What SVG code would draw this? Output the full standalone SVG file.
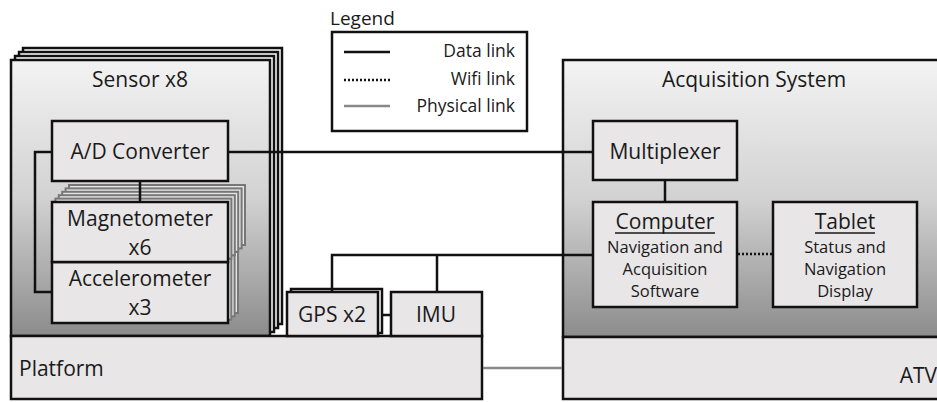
<svg xmlns="http://www.w3.org/2000/svg" width="937" height="402" viewBox="0 0 937 402">
<defs>
<linearGradient id="cg" x1="0" y1="0" x2="0" y2="1">
<stop offset="0" stop-color="#f3f3f3"/>
<stop offset="0.5" stop-color="#d2d2d2"/>
<stop offset="1" stop-color="#8c8c8c"/>
</linearGradient>
<style>
text{font-family:"Open Sans","Liberation Sans",sans-serif;fill:#1a1a1a}
.box{fill:#e8e6e7;stroke:#111;stroke-width:2.5}
.cont{fill:url(#cg);stroke:#111;stroke-width:2.5}
.shadow{fill:#fff;stroke:#111;stroke-width:2.5}
.gshadow{fill:#e4e4e4;stroke:#777;stroke-width:2}
.t20{font-size:21px;text-anchor:middle}
.t16{font-size:16.5px;text-anchor:middle}
.leg{font-size:17.5px;text-anchor:end}
.data{fill:none;stroke:#111;stroke-width:2.5}
.wifi{fill:none;stroke:#111;stroke-width:2.5;stroke-dasharray:2 2}
.phys{fill:none;stroke:#888;stroke-width:2.5}
.ul{stroke:#1a1a1a;stroke-width:1.5}
</style>
</defs>
<rect width="937" height="402" fill="#fff"/>

<g id="legend">
<text x="330" y="25" style="font-size:19px">Legend</text>
<rect x="332" y="32" width="195" height="99" fill="#fff" stroke="#111" stroke-width="2.5"/>
<line x1="344" y1="52" x2="390" y2="52" class="data"/>
<line x1="344" y1="80" x2="390" y2="80" class="wifi"/>
<line x1="344" y1="106" x2="390" y2="106" class="phys"/>
<text x="515" y="57" class="leg">Data link</text>
<text x="515" y="85" class="leg">Wifi link</text>
<text x="515" y="112" class="leg">Physical link</text>
</g>

<g id="sensor">
<rect x="23" y="48" width="259" height="276" class="shadow"/>
<rect x="19" y="52" width="259" height="276" class="shadow"/>
<rect x="15" y="56" width="259" height="276" class="shadow"/>
<rect x="11" y="60" width="259" height="276" class="cont"/>
<text x="140" y="87" class="t20">Sensor x8</text>
</g>

<g id="platform">
<rect x="11" y="336" width="471" height="63" class="box"/>
<text x="19" y="376" style="font-size:21px">Platform</text>
</g>

<g id="acquisition">
<rect x="563" y="60" width="390" height="277" class="cont"/>
<text x="754" y="87" class="t20">Acquisition System</text>
</g>

<g id="atv">
<rect x="563" y="337" width="390" height="62" class="box"/>
<text x="937" y="383" style="font-size:21px;text-anchor:end">ATV</text>
</g>

<g id="adc">
<rect x="52" y="121" width="176" height="60" class="box"/>
<text x="140" y="159" class="t20">A/D Converter</text>
</g>

<g id="accelerometer">
<rect x="62" y="252" width="176" height="61" class="gshadow"/>
<rect x="58.6" y="255.4" width="176" height="61" class="gshadow"/>
<rect x="55.3" y="258.7" width="176" height="61" class="gshadow"/>
<rect x="52" y="262" width="176" height="61" class="box"/>
<text x="140" y="286" class="t20">Accelerometer</text>
<text x="140" y="315" class="t20">x3</text>
</g>

<g id="magnetometer">
<rect x="69" y="185" width="176" height="60" class="gshadow"/>
<rect x="65.6" y="188.4" width="176" height="60" class="gshadow"/>
<rect x="62.2" y="191.8" width="176" height="60" class="gshadow"/>
<rect x="58.8" y="195.2" width="176" height="60" class="gshadow"/>
<rect x="55.4" y="198.6" width="176" height="60" class="gshadow"/>
<rect x="52" y="202" width="176" height="60" class="box"/>
<text x="140" y="226" class="t20">Magnetometer</text>
<text x="140" y="255" class="t20">x6</text>
</g>

<g id="gps">
<rect x="291" y="289" width="91" height="44" class="shadow"/>
<rect x="287" y="292" width="91" height="44" class="box"/>
<text x="332" y="322" class="t20">GPS x2</text>
</g>

<g id="imu">
<rect x="391" y="292" width="91" height="44" class="box"/>
<text x="436" y="322" class="t20">IMU</text>
</g>

<g id="multiplexer">
<rect x="593" y="121" width="144" height="59" class="box"/>
<text x="665" y="159" class="t20">Multiplexer</text>
</g>

<g id="computer">
<rect x="593" y="202" width="144" height="105" class="box"/>
<text x="665" y="229" class="t20">Computer</text>
<line x1="615" y1="233" x2="715" y2="233" class="ul"/>
<text x="665" y="253" class="t16">Navigation and</text>
<text x="665" y="275" class="t16">Acquisition</text>
<text x="665" y="297" class="t16">Software</text>
</g>

<g id="tablet">
<rect x="773" y="202" width="144" height="105" class="box"/>
<text x="845" y="229" class="t20">Tablet</text>
<line x1="815" y1="233" x2="875" y2="233" class="ul"/>
<text x="845" y="253" class="t16">Status and</text>
<text x="845" y="275" class="t16">Navigation</text>
<text x="845" y="297" class="t16">Display</text>
</g>

<g id="connectors">
<line x1="229" y1="152" x2="592" y2="152" class="data"/>
<polyline points="51,152 35,152 35,292 51,292" class="data"/>
<line x1="140" y1="182" x2="140" y2="201" class="data"/>
<line x1="665" y1="181" x2="665" y2="201" class="data"/>
<polyline points="332,291 332,255 592,255" class="data"/>
<line x1="437" y1="255" x2="437" y2="291" class="data"/>
<line x1="383" y1="315" x2="390" y2="315" class="data"/>
<line x1="738" y1="254" x2="772" y2="254" class="wifi"/>
<line x1="483" y1="368" x2="562" y2="368" class="phys"/>
</g>
</svg>
